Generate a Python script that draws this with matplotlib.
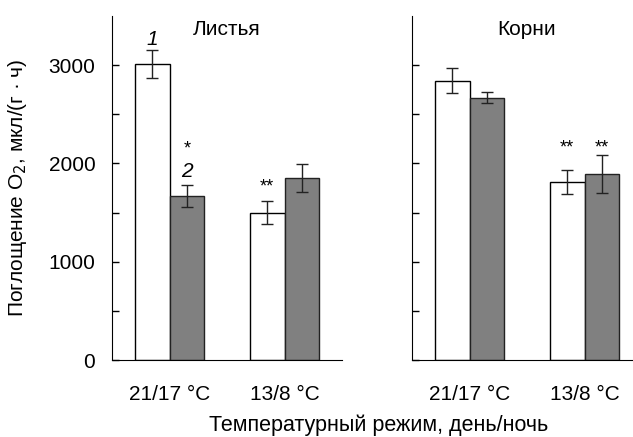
import matplotlib.pyplot as plt
import numpy as np

plt.rcParams['font.family'] = ['Liberation Sans', 'DejaVu Sans']

groups = ['21/17 °C', '13/8 °C']
panels = ['Листья', 'Корни']

# white bars / grey bars, mean and error
leaf_white = [3010, 1500]
leaf_white_err = [145, 120]
leaf_grey = [1668, 1850]
leaf_grey_err = [112, 140]

root_white = [2840, 1812]
root_white_err = [128, 120]
root_grey = [2670, 1893]
root_grey_err = [55, 195]

fig = plt.figure(figsize=(6.33, 4.37), dpi=100)
ax1 = fig.add_axes([112 / 633, 77 / 437, 230 / 633, 344 / 437])
ax2 = fig.add_axes([412 / 633, 77 / 437, 230 / 633, 344 / 437])

x = np.arange(len(groups))
w = 0.3
fs = 15
data = [(leaf_white, leaf_white_err, leaf_grey, leaf_grey_err),
        (root_white, root_white_err, root_grey, root_grey_err)]

for ax, title, (wv, we, gv, ge) in zip([ax1, ax2], panels, data):
    ax.bar(x - w / 2, wv, w, color='white', edgecolor='black', linewidth=1,
           yerr=we, capsize=4, error_kw=dict(elinewidth=1, capthick=1, ecolor='#222222'))
    ax.bar(x + w / 2, gv, w, color='#808080', edgecolor='#222222', linewidth=1,
           yerr=ge, capsize=4, error_kw=dict(elinewidth=1, capthick=1, ecolor='#222222'))
    ax.set_xlim(-0.5, 1.5)
    ax.set_ylim(0, 3500)
    ax.set_yticks([0, 1000, 2000, 3000])
    ax.set_yticks(np.arange(500, 3500, 1000), minor=True)
    ax.tick_params(axis='y', which='both', direction='in', length=5, width=1,
                   labelsize=fs, pad=12)
    ax.set_xticks(x)
    ax.set_xticklabels(groups)
    ax.tick_params(axis='x', length=0, labelsize=fs, pad=18)
    ax.spines['top'].set_visible(False)
    ax.spines['right'].set_visible(False)
    ax.text(0.5, 0.96, title, transform=ax.transAxes, ha='center', va='center', fontsize=fs)

ax2.tick_params(axis='y', which='both', labelleft=False)

ax1.set_ylabel('Поглощение O$_2$, мкл/(г · ч)', fontsize=fs, labelpad=14)

# annotations
ax1.text(-w / 2, 3260, '1', ha='center', va='center', fontsize=fs, style='italic')
ax1.text(w / 2, 1920, '2', ha='center', va='center', fontsize=fs, style='italic')
ax1.text(w / 2, 2150, '*', ha='center', va='center', fontsize=13)
ax1.text(1 - w / 2, 1760, '**', ha='center', va='center', fontsize=13)
ax2.text(1 - w / 2, 2160, '**', ha='center', va='center', fontsize=13)
ax2.text(1 + w / 2, 2160, '**', ha='center', va='center', fontsize=13)

fig.text(379 / 633, 1 - 425 / 437, 'Температурный режим, день/ночь', ha='center', va='center',
         fontsize=15.5)

fig.savefig('out.png', dpi=100)
